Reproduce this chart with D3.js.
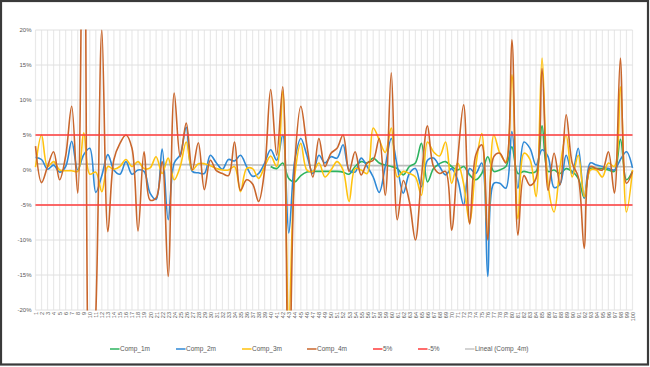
<!DOCTYPE html>
<html><head><meta charset="utf-8">
<script src="https://cdn.jsdelivr.net/npm/d3@7"></script>
<style>html,body{margin:0;padding:0;background:#fff;}svg{display:block;}</style>
</head><body>
<svg id="c" width="650" height="367"></svg>
<script>
const categories = d3.range(1, 101).map(String);
const yTicks = [-20, -15, -10, -5, 0, 5, 10, 15, 20];
const comp1m = [null,null,null,null,null,null,null,null,null,null,
  null,null,null,null,null,null,null,null,null,null,
  null,null,null,null,null,null,null,null,null,null,
  null,null,null,null,null,null,null,null,null,0.5,
  0.2,1.0,-1.2,-1.7,-0.8,-0.3,-0.2,-0.2,-0.2,-0.2,
  -0.2,-0.3,-0.6,0.5,1.2,1.0,1.7,1.0,0.7,0.5,
  0.2,-0.7,0.5,1.0,3.8,-1.7,0.2,0.9,1.2,0.5,
  0,0.5,-0.7,-1.4,-0.5,1.9,-0.2,0,0.5,3.3,
  -0.5,-0.2,-0.4,-0.2,6.3,-0.2,0,-0.5,0.2,-0.2,
  -1.2,-4.0,0.2,0.2,0.2,0,-0.2,4.4,-1.4,-0.2];
const comp2m = [1.8,1.5,0.1,0.7,-0.3,0.5,4.1,0.0,2.2,3.1,
  -3.2,-0.8,2.2,0,-0.6,1.2,-0.6,0,-0.2,-3.3,
  -4.2,3.0,-7.1,1.0,2.2,6.1,-0.2,-0.4,-0.5,2.1,
  1.0,0.1,1.5,1.3,2.1,0.5,-0.9,-0.5,1.0,2.9,
  1.4,5.0,-9.0,1.4,4.5,2.1,-0.5,2.1,1.0,1.9,
  1.7,3.6,0,-0.3,1.7,0.5,-1.0,-3.2,0.5,4.5,
  0.5,-3.3,-0.5,0.2,-2.4,1.4,1.7,0.5,-0.7,0.2,
  -1.4,-5.0,0.2,-0.5,1.0,-15.2,-1.9,-1.9,-2.6,5.5,
  -2.6,4.0,3.1,0.7,2.9,1.9,-2.5,-2.0,2.1,-0.5,
  3.1,-4.0,1.0,0.7,0.5,0.2,0,1.5,2.6,0.3];
const comp3m = [0.4,5.0,0.5,1.2,0,-0.1,-0.1,-0.2,5.3,-0.6,
  -0.3,-3.1,0.5,0.1,0.5,1.5,0.5,1.2,0.2,0.3,
  1.9,-0.5,1.7,-1.4,0.5,4.0,0,0.9,0.9,0.6,
  0.2,0,0,0.5,-3.1,0.2,0.2,-1.2,0.5,2.0,
  0.5,11.3,-22,-0.8,3.8,0,-0.2,1.0,-1.0,0,
  1.2,0,-4.5,0.2,0,-0.5,6.0,4.3,2.5,6.0,
  -1.0,-0.2,-0.5,-1.0,-3.6,4.0,2.6,2.0,4.0,-1.9,
  1.0,-2.0,-7.6,0.5,5.2,-9.5,5.0,2.4,1.2,13.6,
  -7.0,2.4,1.5,-3.8,16.0,-2.1,-6.0,0.5,5.0,-1.0,
  2.1,-3.8,0,0,-1.0,1.0,0.5,11.9,-6.0,0];
const comp4m = [3.4,-1.8,0.5,2.6,-1.4,2.0,9.1,-3.3,58,-36,
  -20.5,20,-8.8,1.5,3.8,5.0,3.1,-8.7,2.6,-4.3,
  -4.0,1.2,-15.2,11.0,1.9,6.7,0,3.9,-2.8,1.4,
  -0.1,-0.5,-0.8,4.0,-2.9,-1.4,-2.0,-4.5,0,11.5,
  2.1,11.9,-34,1.0,9.1,3.5,-1.0,4.5,0.5,2.4,
  3.1,5.0,-0.2,2.6,-0.7,1.0,1.4,4.5,-3.6,13.9,
  -7.1,-1.5,-4.5,-10.0,-1.0,6.3,0.5,-0.5,-0.2,-8.6,
  1.4,9.3,-7.7,2.1,3.6,-10.0,1.9,2.4,1.0,18.6,
  -9.3,-0.8,-2.2,-1.2,14.5,-2.9,2.4,-2.1,7.9,1.0,
  -1.0,-11.2,0.5,0.2,0,2.6,-3.3,16.0,-1.9,-0.2];
const limitHigh = 5;
const limitLow = -5;
const seriesNames = ["Comp_1m","Comp_2m","Comp_3m","Comp_4m"];
const seriesColors = ["#2DB35F","#2F89D6","#FFC20E","#C9662C"];
const legendLabels = ["Comp_1m","Comp_2m","Comp_3m","Comp_4m","5%","-5%","Lineal (Comp_4m)"];

(function () {
const svg = d3.select("#c");
const W = 650, H = 367;
const pL = 35.5, pR = 632.5, pT = 30, pB = 310;
const x = d3.scalePoint().domain(categories).range([pL, pR]);
const y = d3.scaleLinear().domain([-20, 20]).range([pB, pT]);
const font = "'Liberation Sans', Arial, sans-serif";
const txt = "#595959";

svg.append("rect").attr("width", W).attr("height", H).attr("fill", "#fff");

svg.append("g").selectAll("line").data(categories).join("line")
  .attr("x1", d => x(d)).attr("x2", d => x(d)).attr("y1", pT).attr("y2", pB)
  .attr("stroke", "#e9e9e9").attr("stroke-width", 1.2);
svg.append("g").selectAll("line").data(yTicks).join("line")
  .attr("x1", pL).attr("x2", pR).attr("y1", d => y(d)).attr("y2", d => y(d))
  .attr("stroke", "#e0e0e0").attr("stroke-width", 1);

const yAxis = d3.axisLeft(y).tickValues(yTicks).tickFormat(d => d + "%").tickSize(0).tickPadding(4);
const ya = svg.append("g").attr("transform", `translate(${pL},0)`).call(yAxis);
ya.select(".domain").remove();
ya.selectAll("text").attr("font-family", font).attr("font-size", 6).attr("fill", txt);

const xAxis = d3.axisBottom(x).tickSize(0).tickPadding(0);
const xa = svg.append("g").attr("transform", `translate(0,${pB})`).call(xAxis);
xa.select(".domain").remove();
xa.selectAll("text").attr("font-family", font).attr("font-size", 5.5).attr("fill", txt)
  .attr("text-anchor", "end").attr("dy", "0.35em")
  .attr("transform", "translate(0,2) rotate(-90)").attr("x", 0).attr("y", 0);

svg.append("clipPath").attr("id", "clip").append("rect")
  .attr("x", pL - 2).attr("y", pT - 0.5).attr("width", pR - pL + 4).attr("height", pB - pT + 1);

const plot = svg.append("g").attr("clip-path", "url(#clip)");

const idx = comp4m.map((v, i) => i + 1);
const mx = d3.mean(idx), my = d3.mean(comp4m);
const slope = d3.sum(idx, (k, i) => (k - mx) * (comp4m[i] - my)) / d3.sum(idx, k => (k - mx) * (k - mx));
const icpt = my - slope * mx;
const trend = categories.map((c, i) => icpt + slope * (i + 1));
plot.append("path").datum(trend)
  .attr("d", d3.line().x((d, i) => x(categories[i])).y(d => y(d)))
  .attr("fill", "none").attr("stroke", "#bdbdbd").attr("stroke-width", 1.7);

const allSeries = [comp1m, comp2m, comp3m, comp4m];
const line = d3.line()
  .defined(d => d != null)
  .x((d, i) => x(categories[i]))
  .y(d => y(d))
  .curve(d3.curveCatmullRom.alpha(0.5));
allSeries.forEach((s, k) => {
  plot.append("path").datum(s).attr("d", line)
    .attr("fill", "none").attr("stroke", seriesColors[k]).attr("stroke-width", 1.6)
    .attr("stroke-linejoin", "round");
});

[limitHigh, limitLow].forEach(v => {
  svg.append("line").attr("x1", pL).attr("x2", pR).attr("y1", y(v)).attr("y2", y(v))
    .attr("stroke", "#FF3B3B").attr("stroke-width", 1.7);
});

const legX = [110, 176, 242, 307, 373, 418, 465];
const legColors = seriesColors.concat(["#FF3B3B", "#FF3B3B", "#c4c4c4"]);
const lg = svg.append("g");
legendLabels.forEach((t, i) => {
  const g = lg.append("g").attr("transform", `translate(${legX[i]},349)`);
  g.append("line").attr("x1", 0).attr("x2", 9.5).attr("y1", 0).attr("y2", 0)
    .attr("stroke", legColors[i]).attr("stroke-width", 1.5);
  g.append("text").attr("x", 10).attr("y", 0).attr("dy", "0.35em")
    .attr("font-family", font).attr("font-size", 6.5).attr("fill", txt).text(t);
});

svg.append("rect").attr("x", 1).attr("y", 1).attr("width", W - 3).attr("height", H - 3.5)
  .attr("fill", "none").attr("stroke", "#3a3a3a").attr("stroke-width", 2.2);
})();
</script>
</body></html>
